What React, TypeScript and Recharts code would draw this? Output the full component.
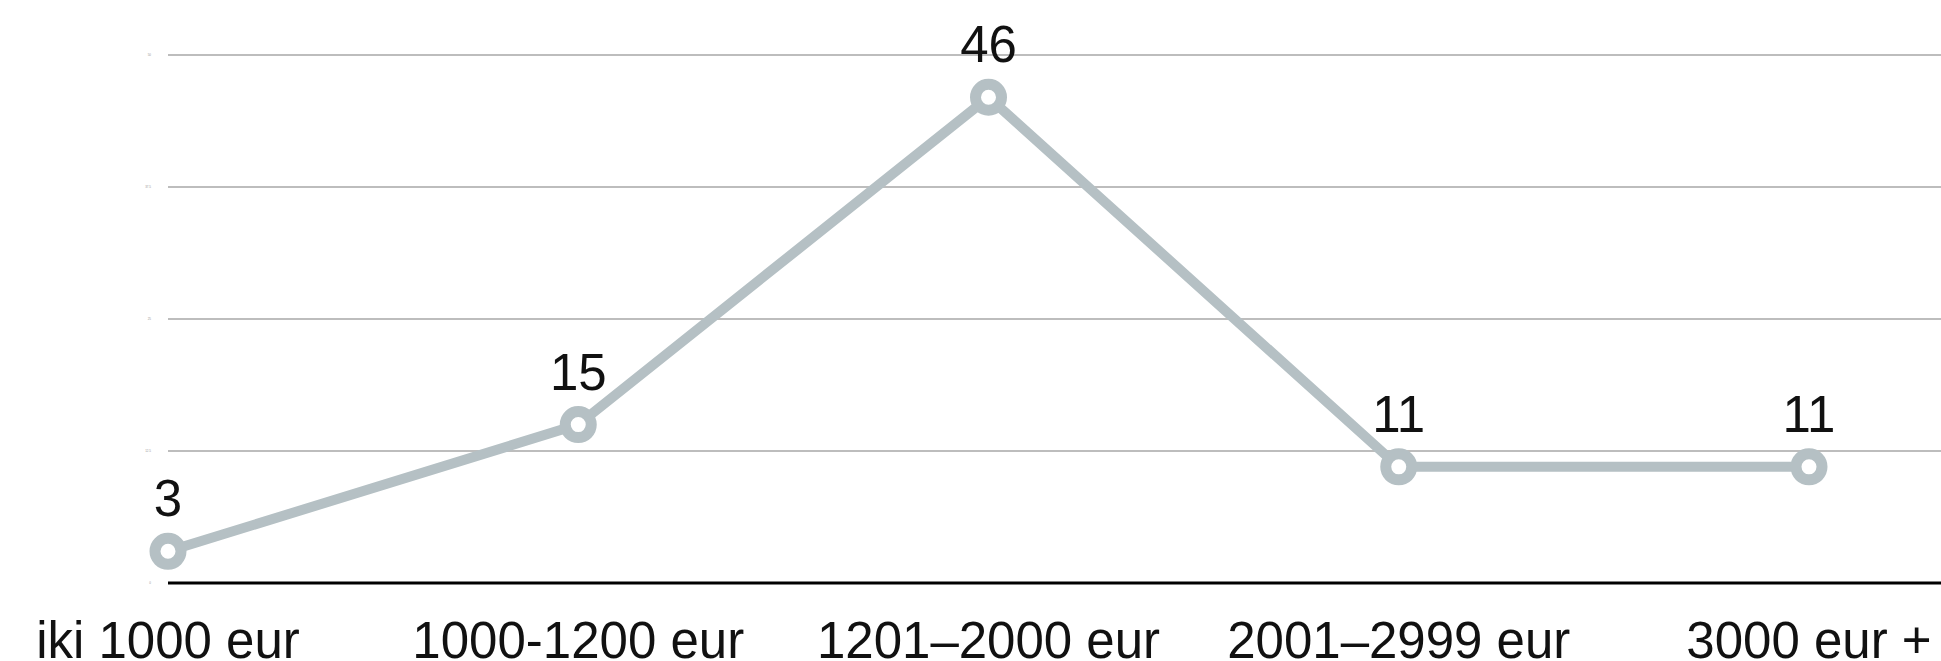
import React from "react";
import {
  LineChart,
  Line,
  XAxis,
  YAxis,
  CartesianGrid,
  LabelList,
} from "recharts";

// ── Data ────────────────────────────────────────────────────────────
const categories = [
  "iki 1000 eur",
  "1000-1200 eur",
  "1201–2000 eur",
  "2001–2999 eur",
  "3000 eur +",
];
const values = [3, 15, 46, 11, 11];
const yTicks = [0, 12.5, 25, 37.5, 50];

const FONT = '"Liberation Sans", Helvetica, Arial, sans-serif';
const LINE_COLOR = "#b5c0c4";

export default function App() {
  // Recharts wants row-shaped data
  const data = categories.map((c, i) => ({ name: c, value: values[i] }));

  // absolute so the body's bottom margin doesn't push a scrollbar in
  return (
    <div
      style={{
        position: "absolute",
        left: 8,
        top: 8,
        width: 1933,
        height: 653,
        fontFamily: FONT,
      }}
    >
      <LineChart
        width={1933}
        height={653}
        data={data}
        margin={{ top: 47, right: 0, left: 0, bottom: 0 }}
      >
        <CartesianGrid stroke="#bdbdbd" strokeWidth={2} vertical={false} />
        <XAxis
          dataKey="name"
          height={78}
          padding={{ left: 0, right: 132 }}
          axisLine={{ stroke: "#000", strokeWidth: 3 }}
          tickLine={false}
          tickSize={0}
          tickMargin={39}
          tick={{ fill: "#111", fontSize: 51, fontFamily: FONT }}
          interval={0}
        />
        <YAxis
          width={160}
          domain={[0, 50]}
          ticks={yTicks}
          axisLine={false}
          tickLine={false}
          tickSize={0}
          tickMargin={17}
          tick={{ fill: "#999", fontSize: 3, fontFamily: FONT }}
        />
        <Line
          type="linear"
          dataKey="value"
          stroke={LINE_COLOR}
          strokeWidth={10}
          dot={{ r: 13, strokeWidth: 11, fill: "#fff", stroke: LINE_COLOR }}
          activeDot={false}
          isAnimationActive={false}
        >
          <LabelList
            dataKey="value"
            position="top"
            offset={35}
            fill="#111"
            fontSize={51}
            fontFamily={FONT}
          />
        </Line>
      </LineChart>
    </div>
  );
}
